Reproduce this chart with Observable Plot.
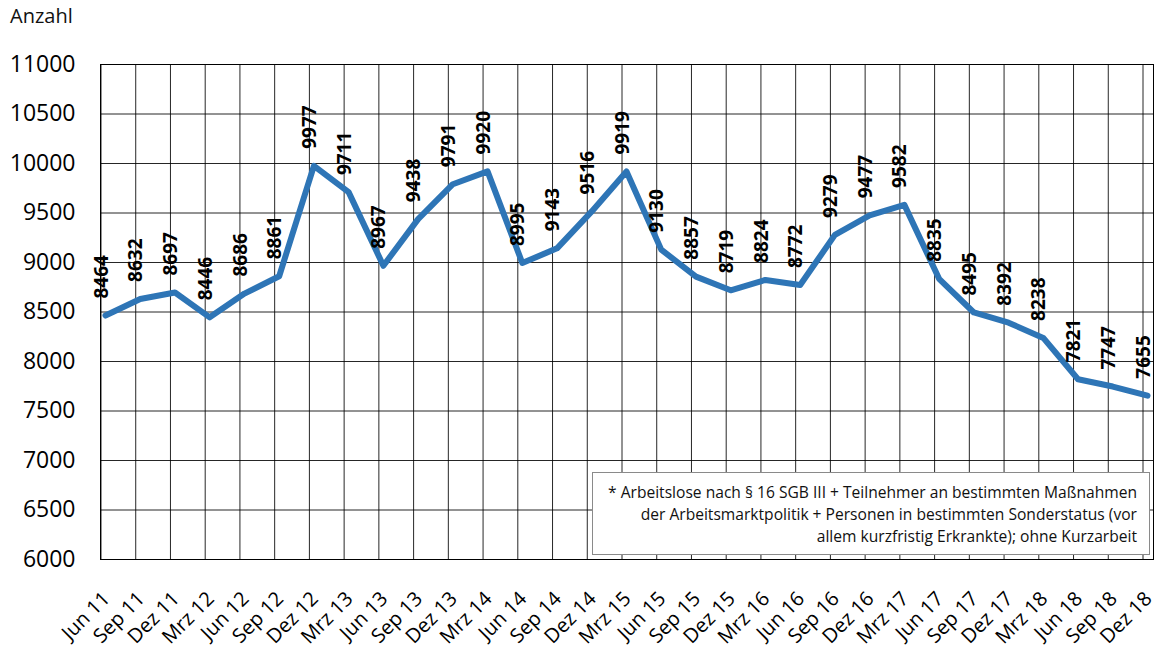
<!DOCTYPE html>
<html><head><meta charset="utf-8">
<script src="https://cdn.jsdelivr.net/npm/d3@7"></script>
<script src="https://cdn.jsdelivr.net/npm/@observablehq/plot@0.6"></script>
<style>
body{margin:0;background:#fff;font-family:"Open Sans",sans-serif}
#wrap{position:relative;width:1157px;height:648px}
#ylab{position:absolute;left:10px;top:2px;font-size:20px;color:#111}
#note{position:absolute;left:592px;top:472px;width:558px;height:83px;box-sizing:border-box;border:1.5px solid #8a8a8a;background:#fff;text-align:right;font-size:15.6px;line-height:22px;padding:8px 12px 0 0;color:#111;white-space:nowrap}
</style></head><body>
<div id="wrap"><div id="chart"></div><div id="ylab">Anzahl</div><div id="note">* Arbeitslose nach § 16 SGB III + Teilnehmer an bestimmten Maßnahmen<br>der Arbeitsmarktpolitik + Personen in bestimmten Sonderstatus (vor<br>allem kurzfristig Erkrankte); ohne Kurzarbeit</div></div>
<script>
const categories = ["Jun 11","Sep 11","Dez 11","Mrz 12","Jun 12","Sep 12","Dez 12","Mrz 13","Jun 13","Sep 13","Dez 13","Mrz 14","Jun 14","Sep 14","Dez 14","Mrz 15","Jun 15","Sep 15","Dez 15","Mrz 16","Jun 16","Sep 16","Dez 16","Mrz 17","Jun 17","Sep 17","Dez 17","Mrz 18","Jun 18","Sep 18","Dez 18"];
const values = [8464,8632,8697,8446,8686,8861,9977,9711,8967,9438,9791,9920,8995,9143,9516,9919,9130,8857,8719,8824,8772,9279,9477,9582,8835,8495,8392,8238,7821,7747,7655];
const yTicks = [6000,6500,7000,7500,8000,8500,9000,9500,10000,10500,11000];
const idx = categories.map((c,i)=>i);
const data = categories.map((c,i)=>({i, period:c, value: values[i]}));
const chart = Plot.plot({
  width:1157, height:648, marginLeft:100, marginRight:4, marginTop:64, marginBottom:89,
  style:{fontFamily:'"Open Sans", sans-serif', background:'#fff', color:'#000'},
  x:{type:'linear', domain:[0, categories.length-1], range:[105,1147]},
  y:{domain:[6000,11000]},
  marks:[
    Plot.ruleY(yTicks, {stroke:'#000', strokeWidth:1, strokeOpacity:0.85}),
    Plot.ruleX(idx, {x:d=>d, dx:-4.5, stroke:'#000', strokeOpacity:0.85}),
    Plot.frame({stroke:'#000'}),
    Plot.axisY(yTicks, {tickSize:0, tickPadding:25, fontSize:23, label:null, tickFormat:d=>String(d)}),
    Plot.axisX(idx, {tickRotate:-45, tickSize:0, tickPadding:36, dx:1, fontSize:20, label:null, tickFormat:i=>categories[i]}),
    Plot.line(data, {x:'i', y:'value', stroke:'#2E75B6', strokeWidth:6, strokeLinejoin:'round', strokeLinecap:'round'}),
    Plot.text(data, {x:'i', y:'value', text:d=>String(d.value), rotate:-90, textAnchor:'start', dy:-17, dx:-4, fontSize:19, fontWeight:'bold', fill:'#000'})
  ]
});
document.getElementById('chart').appendChild(chart);
</script>
</body></html>
